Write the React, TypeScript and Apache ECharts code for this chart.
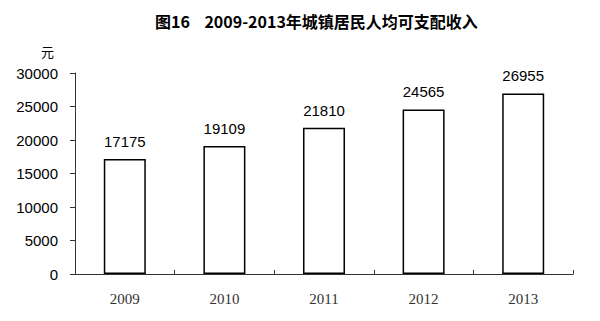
import React, { useEffect, useRef } from "react";
import * as echarts from "echarts";

const titleText = "图16\u00a0\u00a0\u00a0\u00a02009-2013年城镇居民人均可支配收入";
const years = ["2009", "2010", "2011", "2012", "2013"];
const income = [17175, 19109, 21810, 24565, 26955];
const unitLabel = "元";

export default function App() {
  const ref = useRef<HTMLDivElement>(null);
  useEffect(() => {
    if (!ref.current) return;
    const chart = echarts.init(ref.current, null, { renderer: "svg" });
    chart.setOption({
      animation: false,
      backgroundColor: "#ffffff",
      title: {
        text: titleText,
        left: 150,
        top: 8,
        textStyle: {
          fontFamily: "Noto Sans CJK SC",
          fontWeight: "bold",
          fontSize: 16,
          color: "#000",
        },
      },
      graphic: [
        {
          type: "text",
          left: 41,
          top: 45,
          style: {
            text: unitLabel,
            fontFamily: "Noto Sans CJK SC",
            fontSize: 13,
            fill: "#000",
          },
        },
      ],
      grid: { left: 75, right: 27, top: 73, bottom: 47 },
      xAxis: {
        type: "category",
        data: years,
        boundaryGap: true,
        axisLine: { show: true, lineStyle: { color: "#333", width: 1 } },
        axisTick: {
          show: true,
          inside: true,
          length: 4,
          alignWithLabel: false,
          lineStyle: { color: "#333" },
        },
        axisLabel: {
          margin: 17,
          fontFamily: "Liberation Serif",
          fontSize: 15,
          color: "#333",
        },
      },
      yAxis: {
        type: "value",
        min: 0,
        max: 30000,
        interval: 5000,
        splitLine: { show: false },
        axisLine: { show: true, lineStyle: { color: "#333", width: 1 } },
        axisTick: { show: true, length: 5, lineStyle: { color: "#333" } },
        axisLabel: {
          margin: 17,
          fontFamily: "Liberation Sans",
          fontSize: 15,
          color: "#000",
          formatter: (v: number) => String(v),
        },
      },
      series: [
        {
          type: "bar",
          data: income,
          barWidth: 42,
          itemStyle: { color: "#ffffff", borderColor: "#000", borderWidth: 1.5 },
          label: {
            show: true,
            position: "top",
            distance: 10,
            fontFamily: "Liberation Sans",
            fontSize: 15,
            color: "#000",
          },
        },
      ],
    });
    return () => chart.dispose();
  }, []);
  return <div ref={ref} style={{ width: 600, height: 321, position: "absolute", left: 0, top: 0 }} />;
}
